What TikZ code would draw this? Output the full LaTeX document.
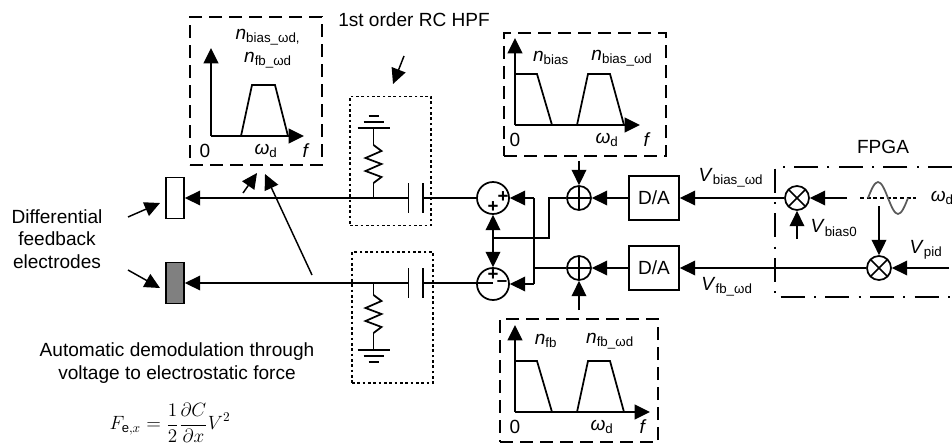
\documentclass[tikz,border=0pt]{standalone}
\usepackage{fontspec}
\setmainfont{Liberation Sans}
\usetikzlibrary{arrows.meta}
\newcommand{\nsub}[1]{\textit{n}\textsubscript{#1}}
\newcommand{\vsub}[1]{\textit{V}\textsubscript{#1}}
\newcommand{\wdrive}{\textit{ω}\textsubscript{d}}
\begin{document}
\begin{tikzpicture}[
    x=0.75pt, y=-0.75pt,
    font=\fontsize{14.3}{17}\selectfont,
    line width=1.3pt,
    arrow/.style={-{Triangle[length=11.5pt,width=11pt]}},
    thinarrow/.style={-{Triangle[length=11.5pt,width=11pt]}, line width=1.1pt},
    specbox/.style={draw, dash pattern=on 10pt off 5pt, inner sep=0pt},
    rcbox/.style={draw, line width=1.1pt, dash pattern=on 2pt off 2pt, inner sep=0pt},
    dabox/.style={draw, minimum width=37.5pt, minimum height=33pt, inner sep=0pt},
    elec/.style={draw, minimum width=13.5pt, minimum height=30.75pt, inner sep=0pt},
    sumnode/.style={circle, draw, minimum size=24pt, inner sep=0pt},
    addnode/.style={circle, draw, minimum size=18pt, inner sep=0pt, path picture={
        \draw (path picture bounding box.north) -- (path picture bounding box.south);
        \draw (path picture bounding box.west) -- (path picture bounding box.east);}},
    mixnode/.style={circle, draw, minimum size=18pt, inner sep=0pt, path picture={
        \draw (path picture bounding box.north west) -- (path picture bounding box.south east);
        \draw (path picture bounding box.south west) -- (path picture bounding box.north east);}},
    sign/.style={inner sep=0pt, font=\bfseries\fontsize{14}{14}\selectfont},
    lbl/.style={inner sep=0pt, align=center},
    res/.pic={\draw (0,0) -- (8,6) -- (-8,13) -- (8,19) -- (-8,26) -- (8,32) -- (0,38);},
    gnd/.pic={\draw (-16,0) -- (16,0) (-10,6) -- (10,6) (-5,12) -- (5,12);}
]
    \useasboundingbox (0,0) rectangle (952,446);

    % spectrum boxes
    \node[specbox, minimum width=99pt, minimum height=111pt] (spec0) at (256,91) {};
    \node[specbox, minimum width=121.5pt, minimum height=92.25pt] (spec1) at (585,94.5) {};
    \node[specbox, minimum width=118.5pt, minimum height=92.25pt] (spec2) at (579,380.5) {};

    \draw[arrow] (211,136) -- (211,48);
    \draw[arrow] (211,136) -- (304,136);
    \draw (241,136) -- (252,85) -- (275,85) -- (288,136);
    \node[lbl] (s0a) at (268,37) {\nsub{bias\_ωd,}};
    \node[lbl] (s0b) at (268,60) {\nsub{fb\_ωd}};
    \node[lbl] (s0c) at (205,151) {0};
    \node[lbl] (s0d) at (266,151) {\wdrive};
    \node[lbl] (s0e) at (306,151) {\textit{f}};

    \draw[arrow] (515,125) -- (515,38);
    \draw[arrow] (515,125) -- (640,125);
    \draw (515,74) -- (537,74) -- (552,125);
    \draw (577,125) -- (588,74) -- (610,74) -- (624,125);
    \node[lbl] (s1a) at (551,58) {\nsub{bias}};
    \node[lbl] (s1b) at (622,58) {\nsub{bias\_ωd}};
    \node[lbl] (s1c) at (515,140) {0};
    \node[lbl] (s1d) at (607,140) {\wdrive};
    \node[lbl] (s1e) at (647,140) {\textit{f}};

    \draw[arrow] (515,412) -- (515,325);
    \draw[arrow] (515,412) -- (650,412);
    \draw (515,361) -- (537,361) -- (552,412);
    \draw (577,412) -- (588,361) -- (610,361) -- (624,412);
    \node[lbl] (s2a) at (546,341) {\nsub{fb}};
    \node[lbl] (s2b) at (610,341) {\nsub{fb\_ωd}};
    \node[lbl] (s2c) at (515,427) {0};
    \node[lbl] (s2d) at (602,427) {\wdrive};
    \node[lbl] (s2e) at (643,427) {\textit{f}};

    % electrodes
    \node[elec] (elec1) at (175,198) {};
    \node[elec, fill=gray] (elec2) at (175,283) {};
    \node[lbl] (elecText) at (57,239) {Differential\\feedback\\electrodes};
    \coordinate (elecTip1) at (160,203);
    \coordinate (elecTip2) at (160,288);
    \coordinate (elecFrom1) at (128,217);
    \coordinate (elecFrom2) at (128,270);
    \draw[thinarrow] (elecFrom1) -- (elecTip1);
    \draw[thinarrow] (elecFrom2) -- (elecTip2);

    % RC high pass
    \node[lbl] (rcText) at (414,20) {1st order RC HPF};
    \node[rcbox, minimum width=60.75pt, minimum height=97pt] (rc1) at (390.5,161) {};
    \node[rcbox, minimum width=60.75pt, minimum height=98.25pt] (rc2) at (392.5,317.5) {};
    \coordinate (rcFrom) at (404,56);
    \coordinate (rcTip) at (393,84);
    \draw[thinarrow] (rcFrom) -- (rcTip);

    \coordinate (capA1) at (408.5,198);
    \coordinate (capB1) at (423,198);
    \coordinate (capA2) at (408.5,283);
    \coordinate (capB2) at (423,283);
    \foreach \c in {capA1,capB1,capA2,capB2}
        \draw (\c) ++(0,-15) -- ++(0,30);

    \pic at (373.5,145) {res};
    \pic at (373.5,295) {res};
    \pic[yscale=-1] at (373.5,128) {gnd};
    \pic at (373.5,350) {gnd};
    \draw (373.5,128) -- (373.5,145) (373.5,183) -- (373.5,198);
    \draw (373.5,283) -- (373.5,295) (373.5,333) -- (373.5,350);

    % summers and adders
    \node[sumnode] (sum1) at (493,198) {};
    \node[sumnode] (sum2) at (493,284) {};
    \node[sign] (sgn1) at (503,197) {+};
    \node[sign] (sgn2) at (493,207) {+};
    \node[sign] (sgn3) at (493,275) {+};
    \node[sign] (sgn4) at (502,284) {--};
    \node[addnode] (add1) at (579,198) {};
    \node[addnode] (add2) at (579,268) {};
    \node[dabox] (da1) at (654,198) {D/A};
    \node[dabox] (da2) at (654,268) {D/A};

    \coordinate (busA) at (549,238);
    \coordinate (busB) at (493,238);
    \coordinate (fbTop) at (534,198);
    \coordinate (fbMid) at (534,268);
    \coordinate (fbBot) at (534,284);

    \draw[arrow] (capA1) -- (elec1);
    \draw[arrow] (capA2) -- (elec2);
    \draw (sum1) -- (capB1);
    \draw (sum2 |- capB2) -- (capB2);
    \draw (add1) -| (busA) -- (busB);
    \draw[arrow] (busB) -- (sum1);
    \draw[arrow] (busB) -- (sum2);
    \draw (add2) -- (fbMid);
    \draw (fbTop) -- (fbBot);
    \draw[arrow] (fbTop) -- (sum1);
    \draw[arrow] (fbBot) -- (sum2);
    \draw[arrow] (da1) -- (add1);
    \draw[arrow] (da2) -- (add2);
    \draw[arrow, shorten <=3pt] (spec1.south -| add1) -- (add1);
    \draw[arrow, shorten <=6pt] (spec2.north -| add2) -- (add2);

    % FPGA
    \draw[dash pattern=on 18pt off 7pt on 1.5pt off 7pt] (952,167) -- (775,167) -- (775,297) -- (952,297);
    \node[lbl] (fpgaText) at (883,147) {FPGA};
    \node[mixnode] (mix1) at (797,198) {};
    \node[mixnode] (mix2) at (879,268) {};
    \coordinate (sineIn) at (847,198);
    \coordinate (sineOut) at (879,206);
    \coordinate (biasIn) at (797,239);
    \coordinate (pidIn) at (949,268);
    \draw[densely dashed] (860,198) -- (916,198);
    \draw[gray!70!black] (868,198) sin (878,182) cos (888,198) sin (898,214) cos (908,198);
    \node[lbl, anchor=west] (wdText) at (930,198) {\wdrive};

    \draw[arrow] (mix1) -- (da1);
    \draw[arrow] (mix2) -- (da2);
    \draw[arrow] (sineIn) -- (mix1);
    \draw[arrow] (sineOut) -- (mix2);
    \draw[thinarrow] (biasIn) -- (mix1);
    \draw[arrow] (pidIn) -- (mix2);

    \node[lbl] (vbw) at (731,178) {\vsub{bias\_ωd}};
    \node[lbl] (vfw) at (727,287) {\vsub{fb\_ωd}};
    \node[lbl] (vb0) at (834,228) {\vsub{bias0}};
    \node[lbl] (vpid) at (926,250) {\vsub{pid}};

    % demodulation note
    \coordinate (noteFrom) at (312,275);
    \coordinate (noteTip) at (265,174);
    \coordinate (noteFrom2) at (243,193);
    \coordinate (noteTip2) at (257,173);
    \draw[thinarrow] (noteFrom) -- (noteTip);
    \draw[thinarrow] (noteFrom2) -- (noteTip2);
    \node[lbl] (noteText) at (177,363) {Automatic demodulation through\\voltage to electrostatic force};
    \node[lbl, font=\fontsize{14}{17}\selectfont] (forceEq) at (170,423) {$\displaystyle F_{\mathrm{e},x}=\frac{1}{2}\frac{\partial C}{\partial x}V^{2}$};
\end{tikzpicture}
\end{document}
